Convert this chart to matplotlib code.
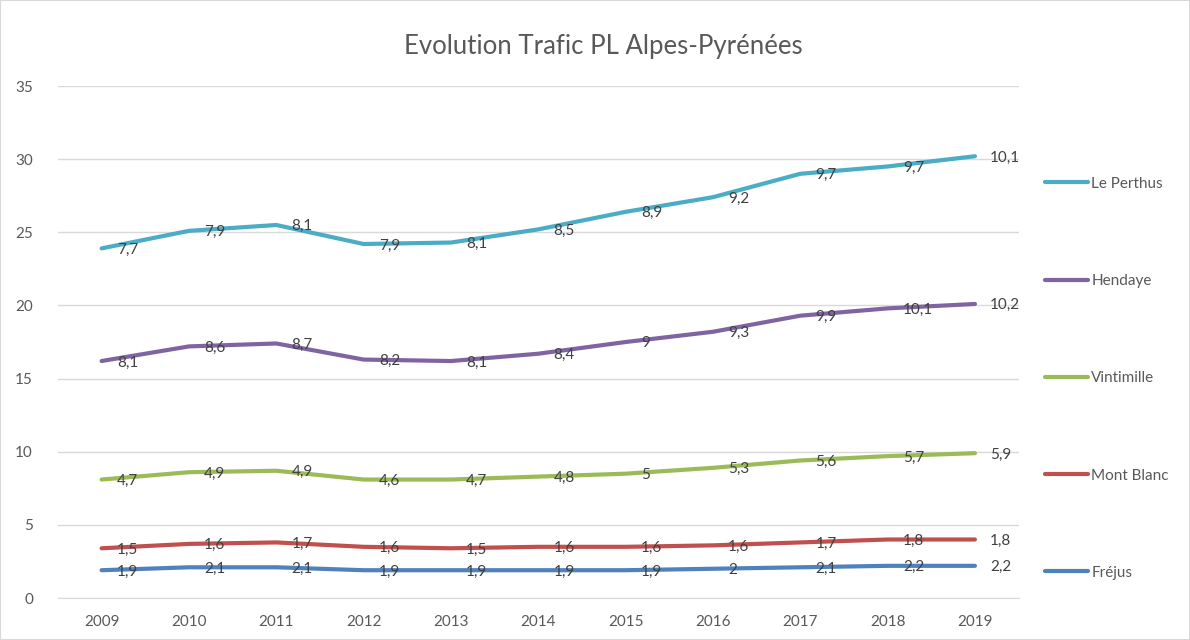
import matplotlib
matplotlib.use('Agg')
import matplotlib.pyplot as plt
from matplotlib.patches import Rectangle
import numpy as np

plt.rcParams['font.family'] = ['Lato', 'DejaVu Sans']

years = ['2009', '2010', '2011', '2012', '2013', '2014', '2015', '2016', '2017', '2018', '2019']

# series listed bottom to top of the stack
frejus = [1.9, 2.1, 2.1, 1.9, 1.9, 1.9, 1.9, 2, 2.1, 2.2, 2.2]
mont_blanc = [1.5, 1.6, 1.7, 1.6, 1.5, 1.6, 1.6, 1.6, 1.7, 1.8, 1.8]
vintimille = [4.7, 4.9, 4.9, 4.6, 4.7, 4.8, 5, 5.3, 5.6, 5.7, 5.9]
hendaye = [8.1, 8.6, 8.7, 8.2, 8.1, 8.4, 9, 9.3, 9.9, 10.1, 10.2]
le_perthus = [7.7, 7.9, 8.1, 7.9, 8.1, 8.5, 8.9, 9.2, 9.7, 9.7, 10.1]

names = ['Fréjus', 'Mont Blanc', 'Vintimille', 'Hendaye', 'Le Perthus']
series = [frejus, mont_blanc, vintimille, hendaye, le_perthus]
colors = ['#4F81BD', '#C0504D', '#9BBB59', '#8064A2', '#4BACC6']

text_col = '#595959'
grid_col = '#D9D9D9'

fig = plt.figure(figsize=(11.9, 6.4), dpi=100)
ax = fig.add_axes([0.0487, 0.0656, 0.8073, 0.80])

x = np.arange(len(years))
base = np.zeros(len(years))
handles = []
for name, vals, col in zip(names, series, colors):
    vals = np.array(vals, dtype=float)
    top = base + vals
    ln, = ax.plot(x, top, color=col, lw=3, solid_capstyle='round', label=name, zorder=3)
    handles.append(ln)
    for xi, yi, v in zip(x, top, vals):
        lab = f"{v:g}".replace('.', ',')
        ax.annotate(lab, (xi, yi), xytext=(11, -1), textcoords='offset points',
                    ha='left', va='center', fontsize=11, color='#404040', zorder=4)
    base = top

ax.set_xlim(-0.5, len(years) - 0.5)
ax.set_ylim(0, 35)
ax.set_yticks(range(0, 36, 5))
ax.set_xticks(x)
ax.set_xticklabels(years)
ax.grid(axis='y', color=grid_col, lw=1)
ax.set_axisbelow(True)
for s in ['top', 'right', 'left']:
    ax.spines[s].set_visible(False)
ax.spines['bottom'].set_color(grid_col)
ax.tick_params(length=0, labelsize=11, labelcolor=text_col)
ax.tick_params(axis='y', pad=18)
ax.tick_params(axis='x', pad=12)

fig.text(0.507, 0.928, 'Evolution Trafic PL Alpes-Pyrénées', ha='center', va='center',
         fontsize=18.5, color=text_col)

leg = fig.legend(handles[::-1], names[::-1], loc='center left', bbox_to_anchor=(0.867, 0.409),
                 frameon=False, fontsize=11, labelspacing=5.45, handlelength=2.8,
                 handletextpad=0.2, labelcolor=text_col)

fig.patches.append(Rectangle((0, 0), 1, 1, transform=fig.transFigure, fill=False,
                             edgecolor=grid_col, lw=1.5))

fig.savefig('out.png', dpi=100)
